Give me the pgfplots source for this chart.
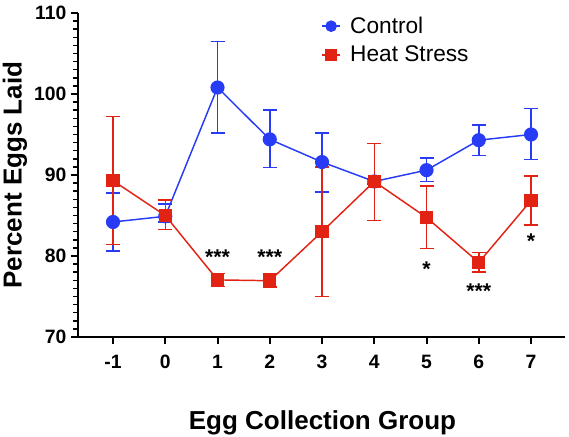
\documentclass[border=0pt]{standalone}
\usepackage{fontspec}
\setmainfont{Liberation Sans}
\usepackage{pgfplots}
\usepackage{pgfplotstable}
\pgfplotsset{compat=1.18}
\definecolor{cblue}{RGB}{40,60,245}
\definecolor{cred}{RGB}{226,35,20}
\pgfplotstableread{
x y ep em
-1 84.2 3.6 3.6
0 84.9 1.5 0.7
1 100.8 5.7 5.6
2 94.4 3.6 3.5
3 91.6 3.6 3.7
4 89.2 0.3 0.3
5 90.6 1.5 1.4
6 94.3 1.9 1.9
7 95.0 3.2 3.1
}\control
\pgfplotstableread{
x y ep em
-1 89.3 7.9 7.9
0 85.0 1.9 1.7
1 77.05 0.8 0.8
2 76.95 0.8 0.8
3 83.0 8.0 8.0
4 89.2 4.7 4.8
5 84.75 3.9 3.8
6 79.2 1.2 1.2
7 86.85 3.0 3.0
}\heat
\begin{document}
\begin{tikzpicture}
\begin{axis}[name=ax, scale only axis, width=365.25pt, height=243pt,
  xmin=-1.67, xmax=7.65, ymin=70, ymax=110,
  axis x line*=bottom, axis y line*=left,
  axis line style={line width=1.8pt},
  xtick={-1,0,1,2,3,4,5,6,7}, xticklabels={-1,0,1,2,3,4,5,6,7},
  ytick={70,80,90,100,110}, minor y tick num=9,
  tick align=outside, major tick length=5.25pt, minor tick length=3.5pt,
  major tick style={black, line width=1.5pt},
  minor tick style={black, line width=1.1pt},
  tick label style={font=\fontsize{14.5}{16}\selectfont\bfseries},
  xticklabel style={yshift=-4.5pt},
  /pgf/number format/assume math mode=true,
  xlabel={Egg Collection Group}, ylabel={Percent Eggs Laid},
  label style={font=\fontsize{19.5}{22}\selectfont\bfseries},
  xlabel style={at={(axis description cs:0.502,-0.284)}, anchor=base},
  ylabel style={at={(axis description cs:-0.1156,0.5)}, anchor=base},
  legend style={at={(axis description cs:0.491,1.005)}, anchor=north west, draw=none, fill=none,
    font=\fontsize{17}{20}\selectfont, row sep=4pt},
  legend cell align=left,
  legend image code/.code={\draw[mark repeat=2, mark phase=2, #1, mark size=3.8pt] plot coordinates {(0pt,0pt) (6.75pt,0pt) (13.5pt,0pt)}; \path (18.5pt,0pt);},
  clip=false,
]
\addplot[cblue, line width=1.1pt, mark=*, mark size=4.75pt, mark options={solid, fill=cblue},
  error bars/.cd, y dir=both, y explicit,
  error bar style={line width=1.1pt, cblue},
  error mark options={rotate=90, mark size=5.25pt, line width=1.1pt, cblue}]
  table[x=x, y=y, y error plus=ep, y error minus=em] {\control};
\addlegendentry{Control}
\addplot[cred, line width=1.1pt, mark=square*, mark size=4.4pt, mark options={solid, fill=cred},
  error bars/.cd, y dir=both, y explicit,
  error bar style={line width=1.1pt, cred},
  error mark options={rotate=90, mark size=5.25pt, line width=1.1pt, cred}]
  table[x=x, y=y, y error plus=ep, y error minus=em] {\heat};
\addlegendentry{Heat Stress}
\node[font=\fontsize{16}{18}\selectfont\bfseries] at (axis cs:1,79.8) {***};
\node[font=\fontsize{16}{18}\selectfont\bfseries] at (axis cs:2,79.8) {***};
\node[font=\fontsize{16}{18}\selectfont\bfseries] at (axis cs:5,78.4) {*};
\node[font=\fontsize{16}{18}\selectfont\bfseries] at (axis cs:6,75.7) {***};
\node[font=\fontsize{16}{18}\selectfont\bfseries] at (axis cs:7,81.8) {*};
\end{axis}
\pgfresetboundingbox
\path[use as bounding box] ([shift={(-58.5pt,-74.25pt)}]ax.south west) rectangle ([shift={(3pt,9.75pt)}]ax.north east);
\end{tikzpicture}
\end{document}
